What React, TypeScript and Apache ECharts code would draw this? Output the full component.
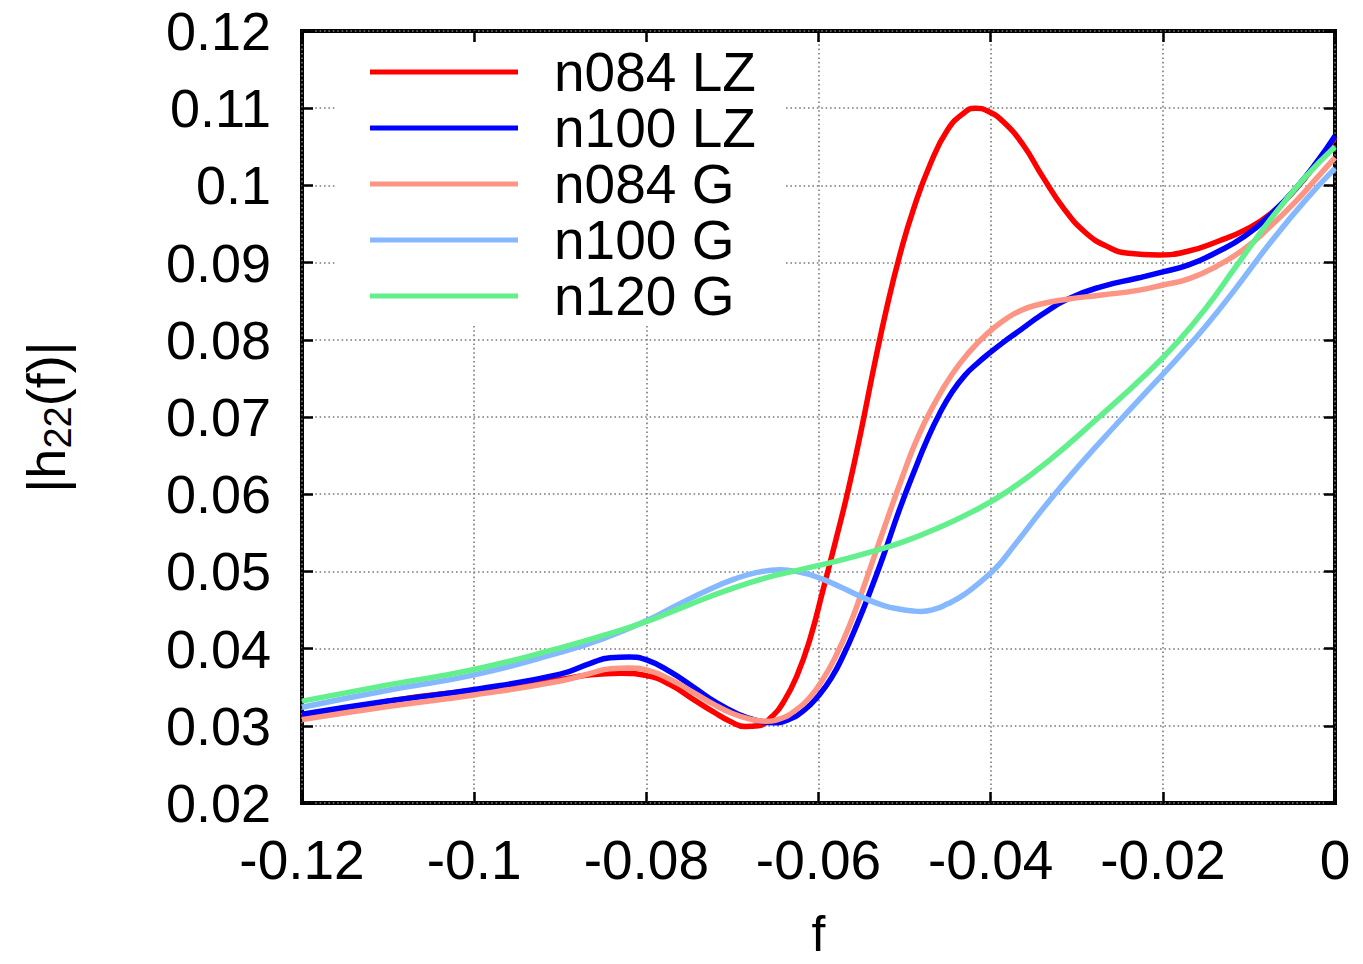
import React, { useEffect, useRef } from 'react';
import * as echarts from 'echarts';

// ---- data (f, |h22(f)|) ----
const seriesNames = ['n084 LZ', 'n100 LZ', 'n084 G', 'n100 G', 'n120 G'];
const seriesColors = ['#ff0000', '#0000ff', '#fd9585', '#86b8ff', '#62f08c'];

const n084LZ: [number, number][] = [
  [-0.12, 0.031], [-0.11, 0.0332], [-0.1, 0.0346], [-0.09, 0.036], [-0.0865, 0.0366],
  [-0.083, 0.0368], [-0.08, 0.0365], [-0.0772, 0.0353], [-0.0745, 0.0334], [-0.0722, 0.0318],
  [-0.0703, 0.0306], [-0.0685, 0.0299], [-0.067, 0.03], [-0.0655, 0.0311], [-0.064, 0.0332],
  [-0.0625, 0.0365], [-0.061, 0.0412], [-0.0595, 0.0475], [-0.058, 0.054], [-0.0565, 0.0608],
  [-0.055, 0.0685], [-0.0535, 0.0768], [-0.052, 0.0845], [-0.0505, 0.0912], [-0.049, 0.0968],
  [-0.047, 0.1028], [-0.045, 0.1072], [-0.0432, 0.1093], [-0.0418, 0.11], [-0.0403, 0.1096],
  [-0.0385, 0.1082], [-0.0362, 0.1052], [-0.034, 0.1012], [-0.0315, 0.097], [-0.029, 0.0939],
  [-0.0265, 0.0921], [-0.024, 0.0912], [-0.0205, 0.091], [-0.017, 0.0915], [-0.0135, 0.0928],
  [-0.0105, 0.0942], [-0.0075, 0.0963], [-0.0045, 0.0996], [-0.002, 0.1031], [0, 0.1062],
];

const n100LZ: [number, number][] = [
  [-0.12, 0.0315], [-0.11, 0.0332], [-0.1, 0.0347], [-0.09, 0.0367], [-0.0865, 0.0381],
  [-0.0842, 0.0388], [-0.082, 0.0389], [-0.0799, 0.0385], [-0.0772, 0.037], [-0.0745, 0.035],
  [-0.072, 0.0331], [-0.0695, 0.0316], [-0.0672, 0.0307], [-0.0652, 0.0304], [-0.0635, 0.0308],
  [-0.0618, 0.0319], [-0.06, 0.0339], [-0.0585, 0.0362], [-0.057, 0.0394], [-0.0555, 0.0432],
  [-0.054, 0.0474], [-0.0525, 0.0519], [-0.0505, 0.0583], [-0.0488, 0.0632], [-0.0474, 0.0670],
  [-0.046, 0.0703], [-0.0445, 0.0732], [-0.043, 0.0754], [-0.0415, 0.077], [-0.04, 0.0784],
  [-0.0385, 0.0797], [-0.037, 0.0809], [-0.034, 0.0833], [-0.031, 0.0853], [-0.0271, 0.0869],
  [-0.0229, 0.088], [-0.02, 0.0888], [-0.017, 0.0897], [-0.0138, 0.0913], [-0.0105, 0.0934],
  [-0.0075, 0.0962], [-0.0045, 0.0997], [-0.002, 0.1032], [0, 0.1064],
];

const n084G: [number, number][] = [
  [-0.12, 0.0308], [-0.11, 0.0325], [-0.1, 0.034], [-0.09, 0.0358], [-0.0865, 0.0368],
  [-0.0842, 0.0374], [-0.082, 0.0375], [-0.0799, 0.0372], [-0.0772, 0.036], [-0.0745, 0.0343],
  [-0.0722, 0.0328], [-0.07, 0.0316], [-0.068, 0.0309], [-0.0662, 0.0306], [-0.0645, 0.0309],
  [-0.0628, 0.0319], [-0.061, 0.0337], [-0.0595, 0.036], [-0.058, 0.039], [-0.0565, 0.0427],
  [-0.055, 0.0472], [-0.0535, 0.052], [-0.052, 0.0568], [-0.0503, 0.0621], [-0.0485, 0.0673],
  [-0.0465, 0.0718], [-0.0445, 0.0755], [-0.0425, 0.0784], [-0.0405, 0.0807], [-0.0385, 0.0825],
  [-0.0365, 0.0838], [-0.0343, 0.0846], [-0.0315, 0.0852], [-0.0271, 0.0858], [-0.0229, 0.0864],
  [-0.02, 0.0871], [-0.017, 0.0879], [-0.0138, 0.0895], [-0.0105, 0.0918], [-0.0075, 0.0947],
  [-0.0045, 0.098], [-0.002, 0.1011], [0, 0.1036],
];

const n100G: [number, number][] = [
  [-0.12, 0.0324], [-0.11, 0.0346], [-0.1, 0.0366], [-0.09, 0.0395], [-0.085, 0.0413],
  [-0.08, 0.0436], [-0.0765, 0.0456], [-0.073, 0.0475], [-0.0698, 0.049], [-0.067, 0.0499],
  [-0.0645, 0.0502], [-0.0622, 0.0499], [-0.06, 0.0492], [-0.0575, 0.048], [-0.055, 0.0467],
  [-0.0525, 0.0456], [-0.0505, 0.0451], [-0.0492, 0.0449], [-0.0481, 0.0448], [-0.0465, 0.0451],
  [-0.045, 0.0458], [-0.0435, 0.0467], [-0.042, 0.0479], [-0.0405, 0.0493], [-0.039, 0.0509],
  [-0.0373, 0.0533], [-0.0333, 0.059], [-0.0295, 0.064], [-0.0256, 0.0688], [-0.0217, 0.0735],
  [-0.0183, 0.0776], [-0.015, 0.0818], [-0.0115, 0.0867], [-0.0075, 0.0926], [-0.0035, 0.098],
  [0, 0.1022],
];

const n120G: [number, number][] = [
  [-0.12, 0.0332], [-0.11, 0.0353], [-0.1, 0.0373], [-0.09, 0.0401], [-0.085, 0.0417],
  [-0.08, 0.0435], [-0.075, 0.0457], [-0.0705, 0.0476], [-0.066, 0.0492], [-0.0622, 0.0502],
  [-0.058, 0.0513], [-0.054, 0.0525], [-0.05, 0.0539], [-0.046, 0.0557], [-0.042, 0.0578],
  [-0.038, 0.0604], [-0.0334, 0.0642], [-0.0276, 0.0698], [-0.0218, 0.0757], [-0.0183, 0.0797],
  [-0.015, 0.0841], [-0.0115, 0.0895], [-0.0075, 0.0956], [-0.0035, 0.101], [0, 0.105],
];

const allSeries = [n084LZ, n100LZ, n084G, n100G, n120G];

const xMin = -0.12, xMax = 0, xStep = 0.02;
const yMin = 0.02, yMax = 0.12, yStep = 0.01;

const FONT = '"Liberation Sans", Arial, Helvetica, sans-serif';

const fmt = (v: number) => String(Number(v.toFixed(3)));

export default function App() {
  const ref = useRef<HTMLDivElement>(null);
  useEffect(() => {
    if (!ref.current) return;
    const chart = echarts.init(ref.current, undefined, { renderer: 'svg' });
    const tick = { show: true, inside: true, length: 11, lineStyle: { color: '#000', width: 2.5 } };
    const split = { show: true, lineStyle: { color: '#7a7a7a', width: 1.6, type: [1.6, 2.8] as any } };
    chart.setOption({
      animation: false,
      backgroundColor: '#fff',
      grid: {
        left: 302, right: 28, top: 31, bottom: 161,
        show: true, borderColor: '#000', borderWidth: 4, backgroundColor: 'transparent',
        outerBoundsMode: 'none',
      },
      legend: {
        show: true,
        orient: 'vertical',
        left: 337,
        top: 43,
        padding: [1, 28, 2, 33],
        backgroundColor: '#fff',
        itemGap: 0,
        itemWidth: 148,
        itemHeight: 5,
        icon: 'rect',
        data: seriesNames,
        textStyle: { fontSize: 55, fontFamily: FONT, color: '#000', lineHeight: 56, padding: [0, 0, 0, 31] },
      },
      xAxis: [
        {
          type: 'value', min: xMin, max: xMax, interval: xStep, position: 'bottom',
          axisLine: { show: false, onZero: false },
          axisTick: tick,
          axisLabel: { fontSize: 55, fontFamily: FONT, color: '#000', margin: 29, formatter: fmt },
          splitLine: split,
          name: 'f', nameLocation: 'middle', nameGap: 106,
          nameTextStyle: { fontSize: 50, fontFamily: FONT, color: '#000' },
        },
        {
          type: 'value', min: xMin, max: xMax, interval: xStep, position: 'top',
          axisLine: { show: false, onZero: false },
          axisTick: tick, axisLabel: { show: false }, splitLine: { show: false },
        },
      ],
      yAxis: [
        {
          type: 'value', min: yMin, max: yMax, interval: yStep, position: 'left',
          axisLine: { show: false, onZero: false },
          axisTick: tick,
          axisLabel: { fontSize: 54, fontFamily: FONT, color: '#000', margin: 31, formatter: fmt },
          splitLine: split,
          name: '{a||h}{s|22}{a|(f)|}', nameLocation: 'middle', nameGap: 226, nameRotate: 90,
          nameTextStyle: {
            fontFamily: FONT, color: '#000',
            rich: {
              a: { fontSize: 54, fontFamily: FONT, color: '#000', lineHeight: 60 },
              s: { fontSize: 38, fontFamily: FONT, color: '#000', lineHeight: 60, padding: [24, 0, 0, 0] },
            },
          },
        },
        {
          type: 'value', min: yMin, max: yMax, interval: yStep, position: 'right',
          axisLine: { show: false, onZero: false },
          axisTick: tick, axisLabel: { show: false }, splitLine: { show: false },
        },
      ],
      series: allSeries.map((d, i) => ({
        name: seriesNames[i],
        type: 'line',
        data: d,
        smooth: 0.5,
        symbol: 'none',
        lineStyle: { color: seriesColors[i], width: 5.5 },
        itemStyle: { color: seriesColors[i] },
        z: 2 + i * 0.01,
      })),
    });
    return () => chart.dispose();
  }, []);
  return <div ref={ref} style={{ position: 'fixed', left: 0, top: 0, width: 1363, height: 964 }} />;
}
